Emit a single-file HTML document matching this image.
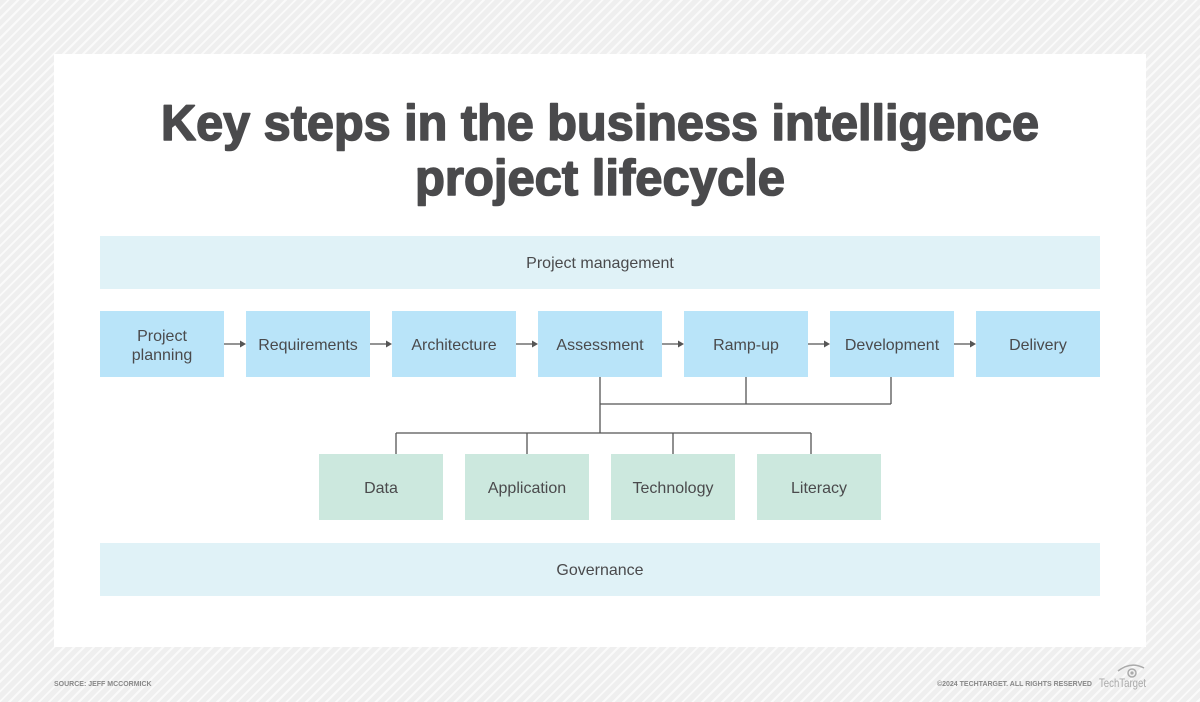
<!DOCTYPE html>
<html><head><meta charset="utf-8"><style>
html,body{margin:0;padding:0}
body{width:1200px;height:702px;overflow:hidden;background:repeating-linear-gradient(135deg,#efefef 0 5px,#fafafa 5px 7px);font-family:"Liberation Sans",sans-serif}
</style></head><body>
<svg width="1200" height="702" viewBox="0 0 1200 702" xmlns="http://www.w3.org/2000/svg" style="position:absolute;left:0;top:0;font-family:'Liberation Sans',sans-serif">
<rect x="54" y="54" width="1092" height="593" fill="#fff"/>
<g stroke="#4a4a4c" stroke-width="1.6" stroke-linejoin="round">
<text x="600" y="140" text-anchor="middle" font-size="50" font-weight="bold" fill="#4a4a4c" textLength="878" lengthAdjust="spacingAndGlyphs">Key steps in the business intelligence</text>
<text x="600" y="195" text-anchor="middle" font-size="50" font-weight="bold" fill="#4a4a4c" textLength="370" lengthAdjust="spacingAndGlyphs">project lifecycle</text>
</g>
<rect x="100" y="236" width="1000" height="53" fill="#e0f2f7"/>
<text x="600" y="268" text-anchor="middle" font-size="16" fill="#4a4a4c">Project management</text>
<rect x="100" y="543" width="1000" height="53" fill="#e0f2f7"/>
<text x="600" y="575" text-anchor="middle" font-size="16" fill="#4a4a4c">Governance</text>
<g fill="#b9e4f9">
<rect x="100" y="311" width="124" height="66"/><rect x="246" y="311" width="124" height="66"/><rect x="392" y="311" width="124" height="66"/><rect x="538" y="311" width="124" height="66"/><rect x="684" y="311" width="124" height="66"/><rect x="830" y="311" width="124" height="66"/><rect x="976" y="311" width="124" height="66"/>
</g>
<g font-size="16" fill="#4a4a4c" text-anchor="middle">
<text x="162" y="341">Project</text><text x="162" y="360">planning</text>
<text x="308" y="350">Requirements</text>
<text x="454" y="350">Architecture</text>
<text x="600" y="350">Assessment</text>
<text x="746" y="350">Ramp-up</text>
<text x="892" y="350">Development</text>
<text x="1038" y="350">Delivery</text>
</g>
<g stroke="#555" stroke-width="1.3" fill="none">
<path d="M224 344H242M370 344H388M516 344H534M662 344H680M808 344H826M954 344H972"/>
<path d="M600 377V433M600 404H891M746 377V404M891 377V404M396 433H811M396 433V454M527 433V454M673 433V454M811 433V454"/>
</g>
<g fill="#555">
<path d="M246 344l-6-3.5v7z"/><path d="M392 344l-6-3.5v7z"/><path d="M538 344l-6-3.5v7z"/><path d="M684 344l-6-3.5v7z"/><path d="M830 344l-6-3.5v7z"/><path d="M976 344l-6-3.5v7z"/>
</g>
<g fill="#cce8de">
<rect x="319" y="454" width="124" height="66"/><rect x="465" y="454" width="124" height="66"/><rect x="611" y="454" width="124" height="66"/><rect x="757" y="454" width="124" height="66"/>
</g>
<g font-size="16" fill="#4a4a4c" text-anchor="middle">
<text x="381" y="493">Data</text><text x="527" y="493">Application</text><text x="673" y="493">Technology</text><text x="819" y="493">Literacy</text>
</g>
<text x="54" y="686" font-size="7" font-weight="bold" fill="#888">SOURCE: JEFF MCCORMICK</text>
<text x="1092" y="686" text-anchor="end" font-size="7" font-weight="bold" fill="#888">©2024 TECHTARGET. ALL RIGHTS RESERVED</text>
<text x="1146" y="687" text-anchor="end" font-size="12" fill="#aaa" textLength="47" lengthAdjust="spacingAndGlyphs">TechTarget</text>
<g stroke="#aaa" stroke-width="1.5" fill="none">
<path d="M1118 671q13-10 26-3"/><circle cx="1132" cy="673" r="4"/>
</g>
<circle cx="1132" cy="673" r="1.6" fill="#aaa"/>
</svg>
</body></html>
